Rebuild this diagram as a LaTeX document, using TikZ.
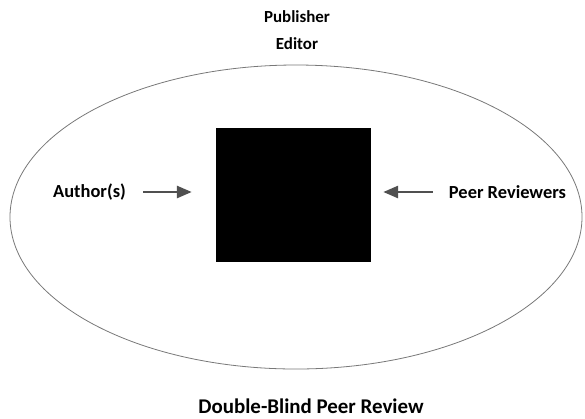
\documentclass[tikz,border=0pt]{standalone}
\usepackage{fontspec}
\setmainfont{Carlito}
\usepackage{tikz}
\usetikzlibrary{arrows.meta}

\definecolor{ringgray}{RGB}{120,120,120}
\definecolor{arrowgray}{RGB}{80,80,80}

\tikzset{
	lbl/.style={font=\bfseries\fontsize{17}{20}\selectfont, inner sep=0pt},
	sidelbl/.style={lbl, font=\bfseries\fontsize{18.5}{22}\selectfont},
	pointer/.style={arrowgray, line width=2.8bp, -{Triangle[length=15bp, width=12bp]}}
}

\begin{document}
\begin{tikzpicture}[x=1bp, y=-1bp]
	\useasboundingbox (0, 0) rectangle (585, 418);
	%
	\node[lbl] (publisher) at (297, 17) {Publisher};
	\node[lbl] (editor) at (297, 44) {Editor};
	\draw[ringgray, line width=0.8bp] (296, 217) ellipse [x radius=286, y radius=152];
	\node[fill=black, minimum width=155bp, minimum height=134bp, inner sep=0pt] (box) at (293.5, 195) {};
	%
	\node[sidelbl] (author) at (89.5, 192) {Author(s)};
	\node[sidelbl] (peer) at (507.5, 192) {Peer Reviewers};
	\draw[pointer, shorten <=17bp, shorten >=24bp] (author.east) -- (author.east -| box.west);
	\draw[pointer, shorten <=16bp, shorten >=12bp] (peer.west) -- (peer.west -| box.east);
	%
	\node[lbl, font=\bfseries\fontsize{21}{25}\selectfont] (title) at (311, 406) {Double-Blind Peer Review};
\end{tikzpicture}
\end{document}
